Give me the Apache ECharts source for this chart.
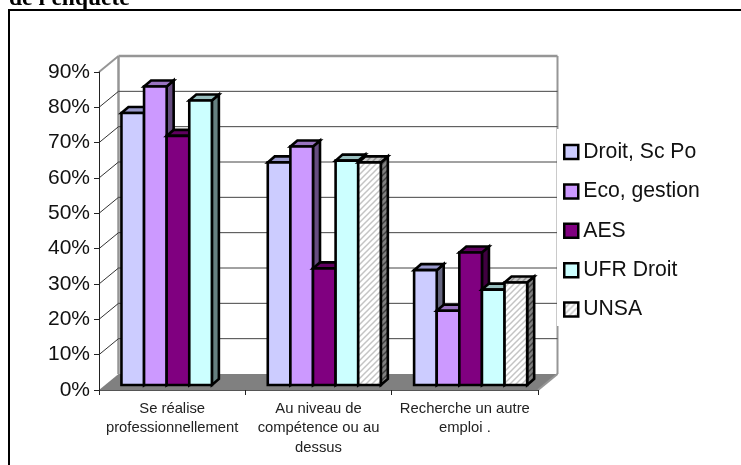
<!DOCTYPE html>
<html>
<head>
<meta charset="utf-8">
<style>html,body{margin:0;padding:0;background:#fff}#chart{position:absolute;left:0;top:0;width:741px;height:465px}#box{position:absolute;left:8px;top:9px;width:733px;height:456px;border-left:2px solid #000;border-top:2px solid #000;box-sizing:border-box;pointer-events:none}</style>
<script src="https://cdn.jsdelivr.net/npm/echarts@6/dist/echarts.min.js"></script>
</head>
<body>
<div id="chart"></div>
<div id="box"></div>
<script>
const heading = "de l'enquête";
const categories = ['Se réalise\nprofessionnellement', 'Au niveau de\ncompétence ou au\ndessus', 'Recherche un autre\nemploi .'];
const droitScPo = [77, 63, 32.5];
const ecoGestion = [84.5, 67.5, 21];
const aes = [70.5, 33, 37.5];
const ufrDroit = [80.5, 63.5, 27];
const unsa = [null, 63, 29];
const ticks = [0, 10, 20, 30, 40, 50, 60, 70, 80, 90];

const FONT = '"Liberation Sans", Arial, sans-serif';

// Diagonal hatching tile used by the UNSA bars
function hatch(bg, line) {
  const c = document.createElement('canvas');
  c.width = 6; c.height = 6;
  const g = c.getContext('2d');
  g.fillStyle = bg; g.fillRect(0, 0, 6, 6);
  g.strokeStyle = line; g.lineWidth = 1.5;
  [[-1, 1, 1, -1], [-1, 7, 7, -1], [5, 7, 7, 5]].forEach(p => {
    g.beginPath(); g.moveTo(p[0], p[1]); g.lineTo(p[2], p[3]); g.stroke();
  });
  return { image: c, repeat: 'repeat' };
}

const seriesDefs = [
  { name: 'Droit, Sc Po', values: droitScPo, front: '#CCCCFF', top: '#9999CC', side: '#666680' },
  { name: 'Eco, gestion', values: ecoGestion, front: '#CC99FF', top: '#9973C0', side: '#664C80' },
  { name: 'AES', values: aes, front: '#800080', top: '#600060', side: '#400040' },
  { name: 'UFR Droit', values: ufrDroit, front: '#CCFFFF', top: '#99BFBF', side: '#668080' },
  { name: 'UNSA', values: unsa, front: hatch('#ffffff', '#c4c4c4'), top: hatch('#c8c8c8', '#909090'), side: hatch('#808080', '#404040') }
];

// Perspective of the box: wall depth and bar placement relative to one category band
const WALL_DX = 19.5, WALL_DY = -16;
const BAR_DX = 7, BAR_DY = -6;
const PLANE_DX = 5.8, PLANE_DY = 5;
const BAR_SHARE = 0.1545;
const OUTLINE = 2.6;

function poly(points, fill, stroke, lineWidth) {
  return { type: 'polygon', shape: { points }, style: { fill, stroke: stroke || 'none', lineWidth: lineWidth || 0, lineJoin: 'miter' } };
}

function barRenderer(index, def) {
  return function (params, api) {
    const cat = api.value(0), val = api.value(1);
    if (val === null || val === undefined || isNaN(val)) return null;
    const band = api.size([1, 0])[0];
    const w = band * BAR_SHARE;
    const base = api.coord([cat, 0]);
    const top = api.coord([cat, val]);
    const x0 = base[0] - band / 2 + (band - w * 5) / 2 + PLANE_DX + index * w;
    const x1 = x0 + w;
    const y0 = base[1] - PLANE_DY;
    const y1 = top[1] - PLANE_DY;
    return {
      type: 'group',
      children: [
        poly([[x1, y0], [x1 + BAR_DX, y0 + BAR_DY], [x1 + BAR_DX, y1 + BAR_DY], [x1, y1]], def.side, '#000', OUTLINE),
        poly([[x0, y1], [x0 + BAR_DX, y1 + BAR_DY], [x1 + BAR_DX, y1 + BAR_DY], [x1, y1]], def.top, '#000', OUTLINE),
        poly([[x0, y0], [x1, y0], [x1, y1], [x0, y1]], def.front, '#000', OUTLINE)
      ]
    };
  };
}

// Back wall, floor and the gridlines that run along them
function frameRenderer(params, api) {
  const v = api.value(1);
  const band = api.size([1, 0])[0];
  const l = api.coord([0, v]);
  const r = api.coord([categories.length - 1, v]);
  const xl = l[0] - band / 2, xr = r[0] + band / 2, y = l[1];
  const line = (x1, y1, x2, y2, color, width) => ({
    type: 'line', shape: { x1, y1, x2, y2 }, style: { stroke: color, lineWidth: width }
  });
  const children = [];
  if (v === 0) {
    children.push(poly([[xl, y], [xl + WALL_DX, y + WALL_DY], [xr + WALL_DX, y + WALL_DY], [xr, y]], '#808080'));
    children.push(line(xr, y, xr + WALL_DX, y + WALL_DY, '#969696', 2));
    const t = api.coord([0, ticks[ticks.length - 1]])[1];
    children.push(line(xl + WALL_DX, y + WALL_DY, xl + WALL_DX, t + WALL_DY, '#969696', 2.5));
    children.push(line(xr + WALL_DX, y + WALL_DY, xr + WALL_DX, t + WALL_DY, '#969696', 2));
  } else if (v === ticks[ticks.length - 1]) {
    children.push(line(xl + WALL_DX, y + WALL_DY, xr + WALL_DX, y + WALL_DY, '#969696', 2.5));
    children.push(line(xl, y, xl + WALL_DX, y + WALL_DY, '#969696', 2));
  } else {
    children.push(line(xl + WALL_DX, y + WALL_DY, xr + WALL_DX, y + WALL_DY, '#444', 1));
    children.push(line(xl, y, xl + WALL_DX, y + WALL_DY, '#333', 1));
  }
  return { type: 'group', children };
}

const chart = echarts.init(document.getElementById('chart'), null, { renderer: 'canvas' });
chart.setOption({
  animation: false,
  backgroundColor: '#fff',
  title: {
    text: heading, left: 9, top: -13, padding: 0,
    textStyle: { fontFamily: '"Liberation Serif", serif', fontWeight: 'bold', fontSize: 23.5, color: '#000' }
  },
  grid: { left: 99, top: 72, width: 439, height: 318, containLabel: false },
  legend: {
    orient: 'vertical', left: 557, top: 129, padding: [12.5, 40, 6, 6], itemGap: 18.4,
    itemWidth: 14, itemHeight: 14, backgroundColor: '#fff', z: 6, selectedMode: false,
    textStyle: { fontFamily: FONT, fontSize: 21.2, color: '#111' },
    data: seriesDefs.map(d => ({
      name: d.name, icon: 'rect',
      itemStyle: { color: d.front, borderColor: '#000', borderWidth: 2.5 }
    }))
  },
  xAxis: {
    type: 'category', data: categories, z: 5,
    axisLine: { lineStyle: { color: '#555', width: 1 } },
    axisTick: { show: true, length: 5, alignWithLabel: false, lineStyle: { color: '#222' } },
    axisLabel: { interval: 0, fontFamily: FONT, fontSize: 14.8, lineHeight: 19.5, color: '#222', margin: 9 }
  },
  yAxis: {
    type: 'value', min: 0, max: 90, interval: 10, z: 5,
    axisLine: { show: true, lineStyle: { color: '#222', width: 1 } },
    axisTick: { show: true, length: 5, lineStyle: { color: '#222' } },
    splitLine: { show: false },
    axisLabel: { formatter: '{value}%', fontFamily: FONT, fontSize: 21, color: '#111', margin: 9, padding: [2, 0, 0, 0] }
  },
  series: [
    {
      type: 'custom', name: 'frame', z: 1, clip: false, silent: true,
      encode: { x: 0, y: 1 },
      data: ticks.map(t => [0, t]),
      renderItem: frameRenderer
    }
  ].concat(seriesDefs.map((d, i) => ({
    type: 'custom', name: d.name, z: 2 + i, clip: false,
    encode: { x: 0, y: 1 },
    itemStyle: { color: d.front },
    data: d.values.map((v, c) => [c, v]),
    renderItem: barRenderer(i, d)
  })))
});
</script>
</body>
</html>
